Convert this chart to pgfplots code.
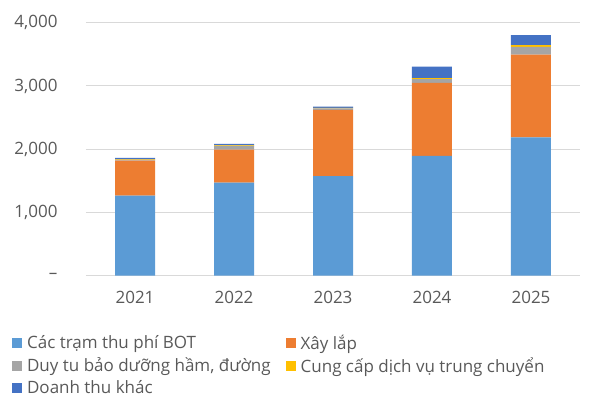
\documentclass[border=0pt]{standalone}
\usepackage{pgfplots}
\pgfplotsset{compat=1.18}
\usepackage{fontspec}
\setmainfont{Open Sans}
\definecolor{cBOT}{HTML}{5B9BD5}
\definecolor{cXL}{HTML}{ED7D31}
\definecolor{cDT}{HTML}{A5A5A5}
\definecolor{cTC}{HTML}{FFC000}
\definecolor{cKH}{HTML}{4472C4}
\definecolor{txt}{HTML}{595959}
\begin{document}
\begin{tikzpicture}
\begin{axis}[
  scale only axis,
  width=494pt, height=275.7pt,
  ybar stacked, bar width=40pt,
  xmin=-0.495, xmax=4.495,
  ymin=0, ymax=4359,
  xtick={0,1,2,3,4},
  xticklabels={2021,2022,2023,2024,2025},
  ytick={0,1000,2000,3000,4000},
  yticklabels={{–},{1,000},{2,000},{3,000},{4,000}},
  ymajorgrids, major grid style={color=black!15, line width=1pt},
  axis line style={draw=none},
  major tick length=0pt,
  tick label style={font=\fontsize{17}{20}\selectfont, text=txt},
  yticklabel style={xshift=-25pt},
  xticklabel style={yshift=-12pt},
  legend columns=2,
  legend cell align=left,
  legend image code/.code={\fill[#1] (0pt,-5pt) rectangle (10pt,5pt);},
  legend style={draw=none, fill=none, inner sep=0pt,
    at={(axis description cs:-0.150,-0.208)}, anchor=north west,
    font=\fontsize{17}{20}\selectfont, text=txt,
    row sep=2.5pt,
    /tikz/every odd column/.append style={column sep=3pt},
    /tikz/every even column/.append style={column sep=13pt}},
]
\addplot[fill=cBOT, draw=none] coordinates {(0,1265) (1,1471) (2,1576) (3,1894) (4,2188)};
\addplot[fill=cXL, draw=none] coordinates {(0,553) (1,523) (2,1044) (3,1155) (4,1306)};
\addplot[fill=cDT, draw=none] coordinates {(0,15) (1,55) (2,25) (3,60) (4,125)};
\addplot[fill=cTC, draw=none] coordinates {(0,8) (1,10) (2,10) (3,15) (4,25)};
\addplot[fill=cKH, draw=none] coordinates {(0,20) (1,26) (2,20) (3,183) (4,160)};
\legend{Các trạm thu phí BOT, Xây lắp, {Duy tu bảo dưỡng hầm, đường}, Cung cấp dịch vụ trung chuyển, Doanh thu khác}
\end{axis}
\pgfresetboundingbox
\useasboundingbox ([xshift=-86pt,yshift=-127.3pt]current axis.south west) rectangle ([xshift=12pt]current axis.north east);
\end{tikzpicture}
\end{document}
